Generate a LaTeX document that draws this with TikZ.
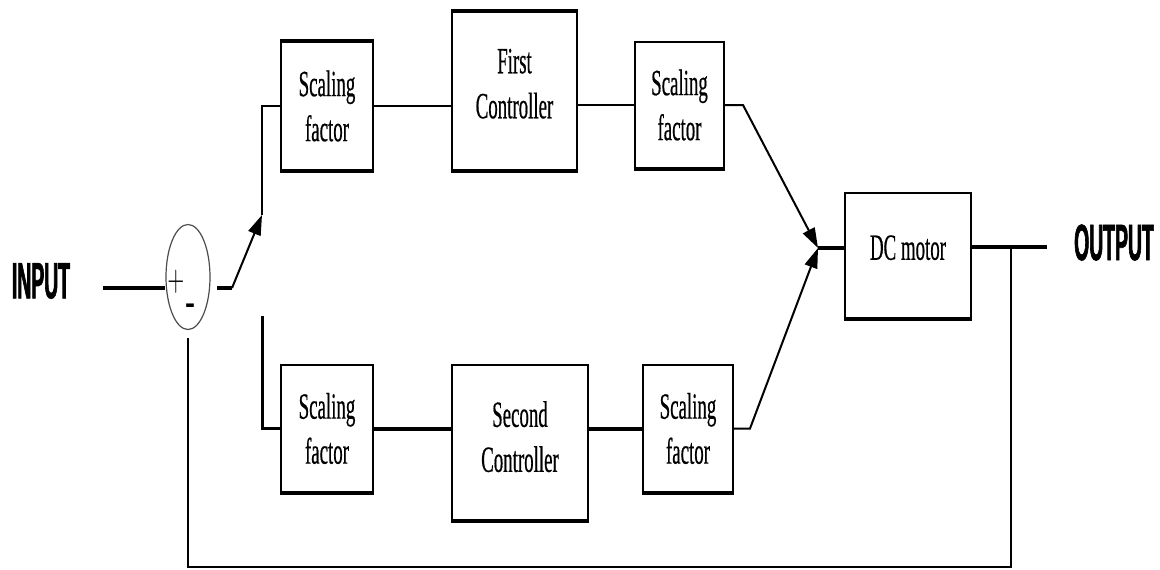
\documentclass[tikz,border=0pt]{standalone}
\usepackage{fontspec}
\setmainfont{Liberation Serif}
\newfontfamily\boxfont[FakeStretch=0.51,FakeBold=0.4]{Liberation Serif}
\newfontfamily\labfont[FakeStretch=0.38,FakeBold=1.2]{Liberation Sans}
\newfontfamily\sansf{Liberation Sans}
\usetikzlibrary{shapes.geometric,arrows.meta}
\begin{document}
\begin{tikzpicture}[x=0.5pt,y=-0.5pt,
  blk/.style={draw, line width=1pt, inner sep=0pt, align=center,
    font=\boxfont\fontsize{18.5}{22.5}\selectfont},
  thinln/.style={line width=1pt},
  thickln/.style={line width=2pt},
  arr/.style={-{Triangle[length=10pt,width=6.5pt]}},
  lab/.style={font=\labfont\bfseries\fontsize{25.5}{27}\selectfont, inner sep=0pt}]
\useasboundingbox (0,0) rectangle (1160,569);

% labels
\node[lab] (inp) at (41,281) {INPUT};
\node[lab] (outp) at (1114,242.5) {OUTPUT};

% summing junction
\node[draw=gray!60!black, line width=0.6pt, ellipse, minimum width=22pt,
  minimum height=52.5pt, inner sep=0pt] (sum) at (188,277) {};
\node[inner sep=0pt, font=\fontsize{11}{11}\selectfont] (plus) at (176,282) {\scalebox{1}[1.6]{$+$}};
\node[inner sep=0pt, font=\sansf\bfseries\fontsize{15}{15}\selectfont] (minus) at (190,309) {-};

% blocks
\node[blk, minimum width=46pt, minimum height=64pt] (sf1) at (327,106) {\raisebox{-5pt}{Scaling}\\\raisebox{-5pt}{factor}};
\node[blk, minimum width=62.5pt, minimum height=79pt] (fc) at (514.5,91) {\raisebox{7.5pt}{First}\\\raisebox{7.5pt}{Controller}};
\node[blk, minimum width=44.5pt, minimum height=63pt] (sf2) at (679.5,105) {\raisebox{-5.5pt}{Scaling}\\\raisebox{-5.5pt}{factor}};
\node[blk, minimum width=63pt, minimum height=62.5pt] (dc) at (908,255.5) {\raisebox{8pt}{DC motor}};
\node[blk, minimum width=46pt, minimum height=63.5pt] (sf3) at (327,428.5) {\raisebox{-1pt}{Scaling}\\\raisebox{-1pt}{factor}};
\node[blk, minimum width=68pt, minimum height=77.5pt] (sc) at (520,442.5) {\raisebox{6pt}{Second}\\\raisebox{6pt}{Controller}};
\node[blk, minimum width=45pt, minimum height=63.5pt] (sf4) at (688,428.5) {\raisebox{-1pt}{Scaling}\\\raisebox{-1pt}{factor}};

% heavier edges of the blocks
\foreach \b in {sf1,fc,sf2,dc,sf3,sc,sf4}
  \draw[thickln] (\b.south west) -- (\b.south east);
\foreach \b in {sf1,fc}
  \draw[thickln] (\b.north west) -- (\b.north east);

% coordinates
\coordinate (in0) at (103,288);
\coordinate (s0) at (217,288);
\coordinate (swA) at (232,288);
\coordinate (swB) at (262,215);
\coordinate (swC) at (262,316);
\coordinate (k1) at (743,105);
\coordinate (k2) at (750,428.5);
\coordinate (j) at (818,248);
\coordinate (o) at (1047,247);
\coordinate (fb) at (1011,247);
\coordinate (fbb) at (188,567);

% connectors
\draw[thickln] (in0) -- (sum.west |- in0);
\draw[thickln] (s0) -- (swA);
\draw[thinln, arr] (swA) -- (swB);
\draw[thinln] (swB) |- (sf1.west);
\draw[line width=1.5pt] (swC) |- (sf3.west);
\draw[thinln] (sf1.east) -- (sf1.east -| fc.west);
\draw[thinln] (sf2.west -| fc.east) -- (sf2.west);
\draw[thinln, arr] (sf2.east) -- (k1) -- (j);
\draw[thickln] (sf3.east) -- (sf3.east -| sc.west);
\draw[thickln] (sc.east |- sf4.west) -- (sf4.west);
\draw[thinln, arr] (sf4.east) -- (k2) -- (j);
\draw[thickln] (j) -- (j -| dc.west);
\draw[thickln] (dc.east |- o) -- (o);
\draw[line width=1.3pt] (fb) |- (fbb) -- ([yshift=-4pt]sum.south);
\end{tikzpicture}
\end{document}
